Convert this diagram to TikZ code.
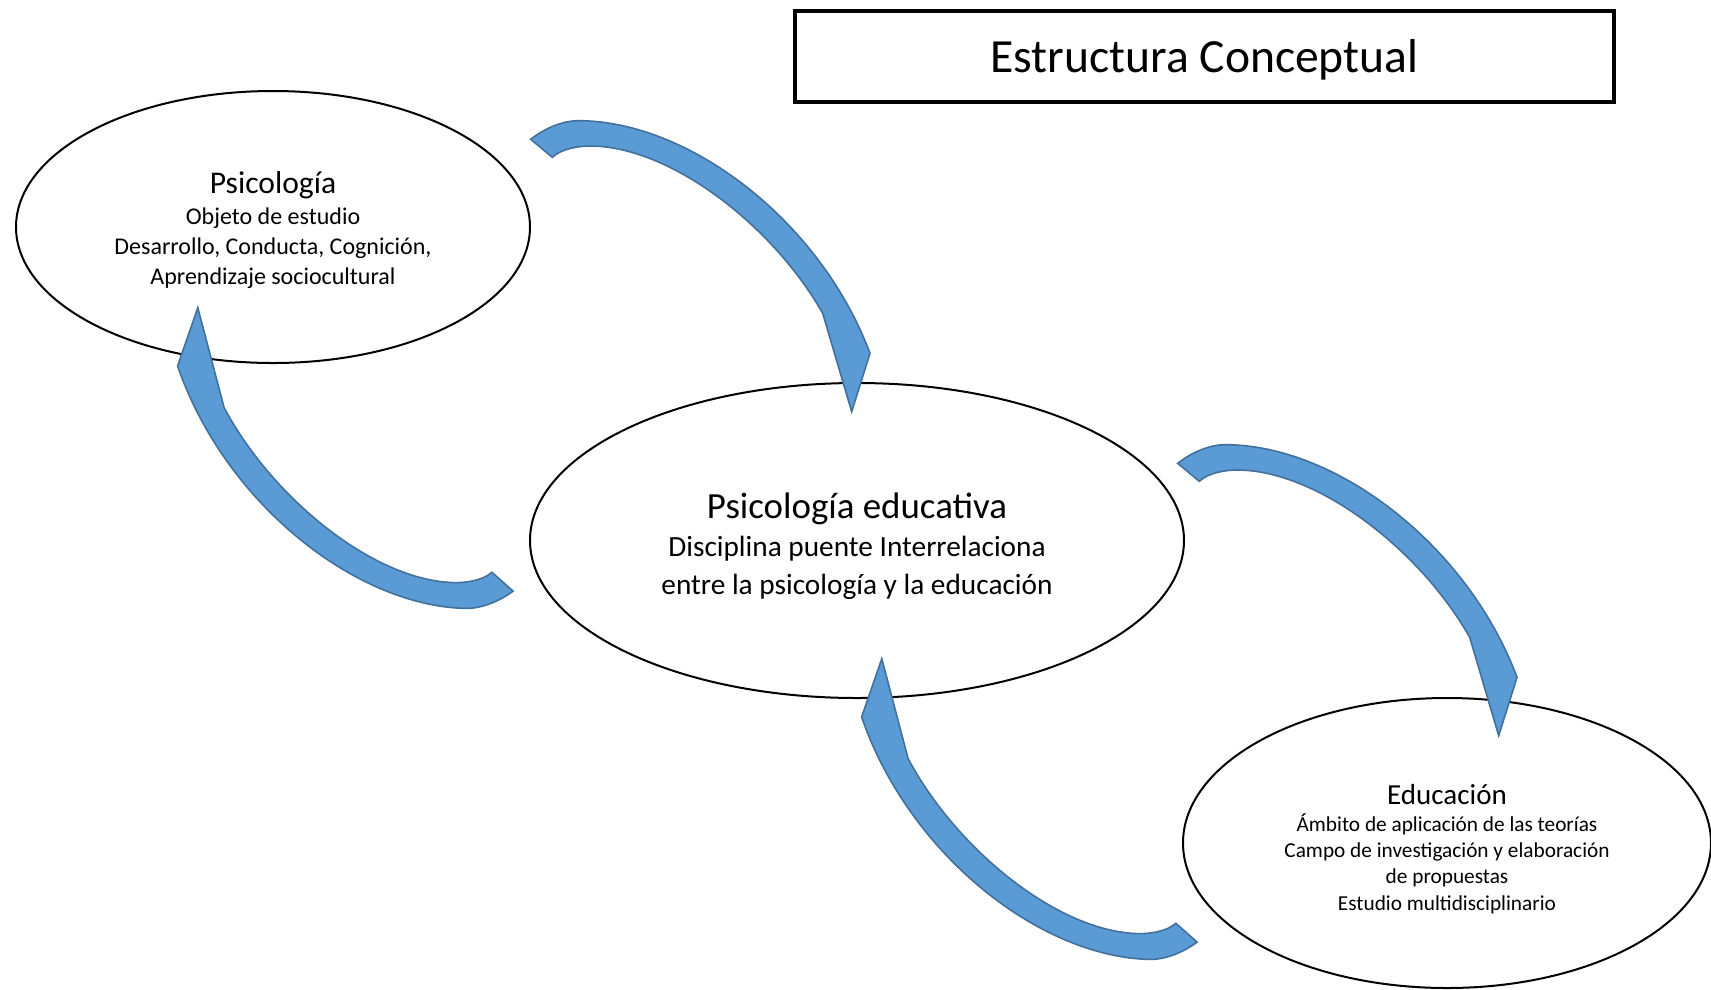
\documentclass[tikz,border=0pt]{standalone}
\usepackage{fontspec}
\setmainfont{Carlito}
\usetikzlibrary{shapes.geometric}
\definecolor{arrfill}{HTML}{5B9BD5}
\definecolor{arrdraw}{HTML}{41719C}
\newcommand\fsz[1]{\fontsize{#1}{#1}\selectfont}
% curved arrow pointing down-right (tail upper left)
\newcommand\ArrowShapeA{%
  \path[blockarrow] (530.7,139.3) .. controls (545,128) and (563,120.7) .. (578.3,120.7)
     .. controls (688.3,120.7) and (820,220) .. (870,353.3)
  -- (851.7,411.7) -- (822.7,313.3)
     .. controls (772.8,225.3) and (670,146) .. (590,146)
     .. controls (578,146) and (561,149) .. (552.3,157.3)
  -- cycle;}
% curved arrow pointing up-left (tail lower right)
\newcommand\ArrowShapeB{%
  \path[blockarrow] (513.1,591.1) .. controls (498.4,602.0) and (480.1,608.9) .. (464.7,608.4)
     .. controls (353.9,605.3) and (224.2,501.6) .. (177.6,366.0)
  -- (197.8,307.7) -- (224.1,407.6)
     .. controls (271.9,497.6) and (373.1,580.4) .. (453.6,582.6)
     .. controls (465.7,583.0) and (482.9,580.4) .. (491.9,572.3)
  -- cycle;}
\begin{document}
\begin{tikzpicture}[x=1pt,y=-1pt,
  bubble/.style={ellipse, draw=black, fill=white, line width=2pt, inner sep=0pt},
  blockarrow/.style={fill=arrfill, draw=arrdraw, line width=1.6pt, line join=miter},
  txt/.style={anchor=base, inner sep=0pt, text=black}]
\useasboundingbox (0,0) rectangle (1711,989);
\fill[white] (0,0) rectangle (1711,989);

% title box
\node[draw=black, line width=3.5pt, minimum width=819pt, minimum height=91pt, inner sep=0pt] (titlebox) at (1204.5,56.5) {};
\node[txt, font=\fsz{47.6}] (title) at (1204.5,72) {Estructura Conceptual};

% ellipses
\node[bubble, minimum width=514pt, minimum height=272pt] (psi) at (273,227) {};
\node[bubble, minimum width=654pt, minimum height=315pt] (pe) at (857,540.5) {};
\node[bubble, minimum width=528pt, minimum height=290pt] (edu) at (1447,843) {};

% curved block arrows
\ArrowShapeA
\begin{scope}[shift={(647,324)}]\ArrowShapeA\end{scope}
\ArrowShapeB
\begin{scope}[shift={(684,351)}]\ArrowShapeB\end{scope}

% texts
\node[txt, font=\fsz{31.6}] (psi1) at (273,193) {Psicología};
\node[txt, font=\fsz{24}] (psi2) at (273,224) {Objeto de estudio};
\node[txt, font=\fsz{24}] (psi3) at (273,254) {Desarrollo, Conducta, Cognición,};
\node[txt, font=\fsz{24}] (psi4) at (273,284) {Aprendizaje sociocultural};

\node[txt, font=\fsz{36.9}] (pe1) at (857,518) {Psicología educativa};
\node[txt, font=\fsz{29.3}] (pe2) at (857,556) {Disciplina puente Interrelaciona};
\node[txt, font=\fsz{29.3}] (pe3) at (857,594) {entre la psicología y la educación};

\node[txt, font=\fsz{29}] (edu1) at (1447,804) {Educación};
\node[txt, font=\fsz{21.3}] (edu2) at (1447,831) {Ámbito de aplicación de las teorías};
\node[txt, font=\fsz{21.3}] (edu3) at (1447,857) {Campo de investigación y elaboración};
\node[txt, font=\fsz{21.3}] (edu4) at (1447,883) {de propuestas};
\node[txt, font=\fsz{21.3}] (edu5) at (1447,910) {Estudio multidisciplinario};
\end{tikzpicture}
\end{document}
